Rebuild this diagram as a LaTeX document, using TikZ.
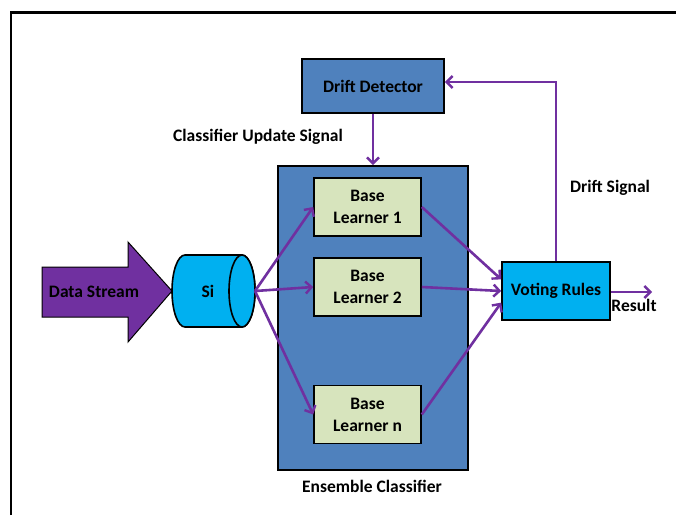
\documentclass[tikz,border=0pt]{standalone}
\usepackage{fontspec}
\setmainfont{Carlito}
\usetikzlibrary{arrows.meta}
\definecolor{officeblue}{HTML}{4F81BD}
\definecolor{learnergreen}{HTML}{D7E4BD}
\definecolor{votecyan}{HTML}{00B0F0}
\definecolor{arrowpurple}{HTML}{7030A0}
\tikzset{
  lbl/.style={font=\fontsize{17.5}{21}\selectfont\bfseries, text=black, inner sep=0pt},
  bluebox/.style={draw=black, line width=1.8pt, fill=officeblue, lbl},
  learner/.style={draw=black, line width=1.6pt, fill=learnergreen, lbl, align=center, minimum width=107pt, minimum height=58pt},
  votebox/.style={draw=black, line width=1.6pt, fill=votecyan, lbl},
  conn/.style={draw=arrowpurple, line width=2.6pt, -{Straight Barb[length=6pt,width=12pt,line width=2.4pt]}},
}
\begin{document}
\begin{tikzpicture}[x=1pt,y=-1pt]
\useasboundingbox (0,0) rectangle (676,515);
\fill[white] (0,0) rectangle (676,515);
% outer frame (top and left visible)
\draw[line width=2.2pt, black] (11,515) -- (11,12.5) -- (676,12.5);

% ensemble classifier container
\node[bluebox, minimum width=190pt, minimum height=304pt] (ens) at (373,318) {};
\node[lbl] (enslbl) at (372,486) {Ensemble Classifier};

% drift detector
\node[bluebox, minimum width=142pt, minimum height=54pt] (dd) at (373,86) {Drift Detector};
\node[lbl] (culbl) at (258,137) {Classifier Update Signal};

% base learners
\node[learner] (bl1) at (367.5,207) {Base\\[1pt]Learner 1};
\node[learner] (bl2) at (367.5,287) {Base\\[1pt]Learner 2};
\node[learner] (bln) at (367.5,414.5) {Base\\[1pt]Learner n};

% voting rules
\node[votebox, minimum width=108pt, minimum height=58pt] (vr) at (556,291) {Voting Rules};
\node[lbl] (reslbl) at (634,305) {Result};
\coordinate (resend) at (652,292);
\node[lbl] (dslbl) at (610,188) {Drift Signal};

% data stream arrow
\draw[line width=1pt, black, fill=arrowpurple] (42,267) -- (128,267) -- (128,242) -- (172,291) -- (128,342) -- (128,317) -- (42,317) -- cycle;
\node[lbl] (dstream) at (94,292) {Data Stream};

% cylinder Si
\draw[line width=1.6pt, black, fill=votecyan] (242,255) arc[start angle=90, end angle=-90, x radius=13pt, y radius=36pt] -- (185,327) arc[start angle=270, end angle=90, x radius=13pt, y radius=36pt] -- cycle;
\draw[line width=1.6pt, black, fill=votecyan] (242,291) ellipse[x radius=13pt, y radius=36pt];
\node[lbl] (si) at (208,291) {Si};
\coordinate (siout) at (255,291);

% connectors
\draw[conn] (siout) -- (bl1.west);
\draw[conn] (siout) -- (bl2.west);
\draw[conn] (siout) -- (bln.west);
\draw[conn] (bl1.east) -- (vr.168);
\draw[conn] (bl2.east) -- (vr.west);
\draw[conn] (bln.east) -- (vr.192);
\draw[conn] (vr.east |- resend) -- (resend);
\draw[conn] (dd.south) -- (ens.north);
\draw[conn] (vr.north) |- ([yshift=4pt]dd.east);
\end{tikzpicture}
\end{document}
